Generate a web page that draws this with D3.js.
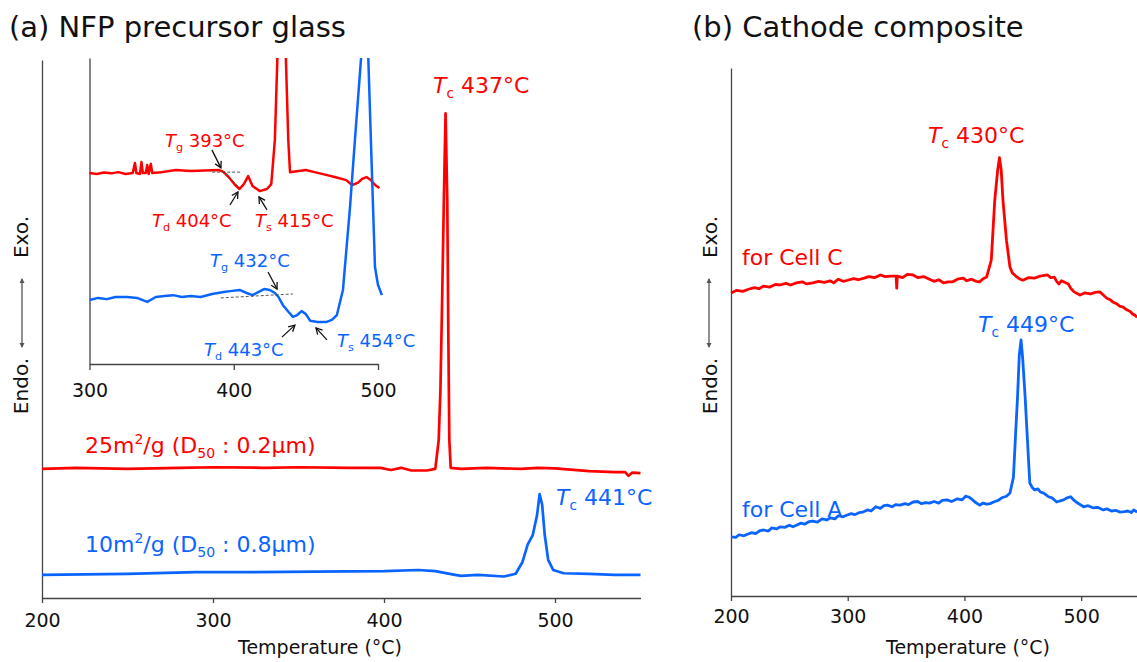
<!DOCTYPE html>
<html>
<head>
<meta charset="utf-8">
<script src="https://cdn.jsdelivr.net/npm/d3@7"></script>
<style>
  body { margin: 0; background: #fff; }
  svg { display: block; font-family: "DejaVu Sans", Verdana, sans-serif; }
</style>
</head>
<body>
<svg width="1137" height="662"></svg>
<script>
// ---- data (temperature in °C, DSC signal in arbitrary units, exo up) ----
const tickTemps = [200, 300, 400, 500];
const insetTicks = [300, 400, 500];

// (a) main curves
const red25 = [[200,24.0],[220,24.2],[250,24.0],[280,24.2],[300,24.3],[330,24.2],[350,24.3],[380,24.2],
  [398,24.2],[404,23.8],[410,24.2],[416,23.7],[425,23.7],[430,24.0],[432,29.4],[433,38.7],[434,55.4],
  [435,74.0],[436,90.1],[437,74.0],[437.6,49.8],[438.2,29.4],[439,24.2],[445,24.0],[460,24.2],[480,24.0],
  [490,24.2],[500,24.1],[520,23.6],[535,23.4],[541,23.4],[543,22.7],[545,23.3],[550,23.2]];
const blue10 = [[200,4.3],[250,4.5],[290,4.8],[320,4.8],[360,4.9],[400,5.0],[420,5.2],[430,5.0],[440,4.4],
  [445,4.1],[455,4.3],[470,4.0],[477,4.5],[481,6.7],[484,9.9],[487,11.7],[489.5,15.4],[491,19.3],
  [492.5,17.3],[494,11.7],[496,7.1],[499,5.2],[505,4.6],[520,4.5],[535,4.3],[550,4.3]];

// (a) inset curves
const redInset = [[300,62.4],[305,62.1],[310,62.6],[315,62.3],[320,62.7],[325,62.1],[330,62.4],[331.5,65.7],
  [332.5,62.4],[335,62.1],[336,66.0],[337,62.4],[339,62.4],[340,65.0],[341,62.1],[342.5,65.4],[343.5,62.4],
  [350,62.7],[360,63.4],[370,63.1],[380,63.2],[390,63.4],[393,62.7],[397,60.8],[401,58.5],[404,57.2],
  [407,58.8],[410,61.4],[413,58.2],[418,56.5],[423,57.2],[426,58.8],[428.5,73.2],[430.9,110],[435.5,110],
  [437.8,73.2],[439,62.7],[445,63.1],[450,63.4],[456,62.7],[464,61.8],[470,61.1],[478,60.1],[482,58.5],
  [486,59.2],[489,60.5],[492,61.1],[495,60.1],[498,58.5],[501,57.5]];
const blueInset = [[300,20.9],[306,21.6],[312,21.2],[318,21.9],[326,21.9],[333,21.6],[340,20.3],[346,21.9],
  [352,22.2],[358,22.5],[364,21.9],[370,22.2],[377,21.9],[385,22.9],[393,23.5],[399,23.9],[404,24.2],
  [409,23.2],[413,22.5],[417,23.5],[421,24.5],[425,24.2],[428.5,23.2],[431,21.9],[434,19.3],[438,17.0],
  [441,15.4],[444,16.0],[447,17.3],[450,16.3],[453,14.1],[458,13.7],[464,13.7],[468,14.4],[471.5,16.0],
  [475.7,24.2],[480.6,51.3],[484,73.2],[488.9,104],[493,104],[495.8,62.4],[497.9,31.7],[500,25.8],[502.7,22.5]];

// (b) cathode composite curves
const cellC = [[200,57.4],[205,57.9],[210,57.7],[215,58.1],[220,58.4],[224,58.2],[228,58.7],[233,58.5],
  [238,59.0],[242,58.9],[247,59.2],[251,58.9],[256,59.3],[261,59.5],[265,59.1],[270,59.3],[275,59.6],
  [280,59.4],[285,59.7],[288,59.3],[292,60.0],[296,59.6],[300,59.8],[305,60.1],[309,59.9],[314,60.2],
  [318,60.5],[323,60.3],[328,60.8],[332,60.5],[337,60.6],[341.5,60.6],[342,58.3],[342.5,60.6],[347,60.3],
  [351,60.9],[356,60.8],[360,60.3],[365,60.5],[370,60.0],[374,59.6],[378,59.9],[382,59.3],[386,59.5],
  [390,59.5],[394,60.0],[399,60.2],[402,59.7],[406,60.0],[410,59.6],[413,59.5],[416,60.1],[419,60.4],
  [423,63.6],[426,75.0],[428.5,80.7],[430,83.0],[431.5,80.7],[433,75.0],[436,67.4],[439,62.3],[441,61.2],
  [444,60.6],[447,60.1],[450,59.8],[455,60.3],[460,60.2],[465,60.6],[471,60.8],[474,60.3],[477,60.4],
  [479,59.6],[481,59.1],[483,59.7],[485,59.5],[489,59.1],[491,58.3],[494,57.6],[499,57.0],[503,57.4],
  [508,57.2],[512,57.5],[516,57.6],[519,57.0],[522,56.4],[525,56.1],[527,55.7],[530,55.4],[533,54.9],
  [536,54.7],[539,54.2],[542,53.9],[544,53.4],[546,53.2],[548,52.8]];
const cellA = [[200,11.2],[204,11.1],[207,11.6],[211,11.4],[214,11.7],[218,12.0],[221,11.8],[225,12.4],
  [228,12.5],[232,12.3],[235,12.9],[239,12.7],[242,13.1],[246,13.0],[250,13.4],[253,13.1],[256,13.4],
  [260,13.8],[263,13.6],[267,14.1],[270,14.2],[274,14.0],[278,14.6],[282,14.4],[285,14.8],[289,14.6],
  [292,15.2],[296,15.0],[299,15.3],[303,15.6],[306,15.4],[310,15.8],[313,15.9],[317,16.3],[320,16.1],
  [324,16.9],[328,16.6],[331,17.1],[334,17.2],[338,16.9],[341,17.3],[345,17.2],[349,17.5],[352,17.3],
  [356,17.8],[360,17.9],[363,17.5],[367,17.7],[370,17.6],[374,17.9],[378,17.6],[381,18.1],[385,18.2],
  [389,17.9],[394,18.4],[398,18.2],[401,18.9],[404,18.7],[406,18.4],[409,17.8],[413,17.2],[416,17.6],
  [419,17.4],[422,17.5],[425,17.8],[429,18.1],[432,18.6],[436,18.9],[439,19.5],[442,22.5],[444,31.4],
  [445.5,37.7],[447,45.6],[448.5,48.5],[450,44.7],[452,37.7],[454,29.5],[456,21.4],[458,20.6],[460,20.1],
  [463,20.3],[465,19.7],[468,19.5],[472,18.8],[475,18.6],[479,17.8],[482,18.0],[485,18.2],[488,18.6],
  [491,18.8],[494,18.1],[497,17.6],[500,17.2],[502,16.9],[506,17.1],[510,16.7],[514,16.8],[519,16.3],
  [522,16.5],[526,16.1],[530,16.2],[533,15.9],[537,16.0],[540,16.1],[543,15.8],[545,16.3],[548,15.9]];

// inset tangent lines and arrow targets [temperature, signal]
const redTangents = [[[385,62.7],[405,62.7]], [[394,62.4],[404,57.5]]];
const blueTangents = [[[391,21.6],[441,22.9]]];
const redMarks = [
  { t: 391.1, v: 64.1, sub: "g", txt: "393°C", tail: [-9,-18], lab: [-56,-21] },
  { t: 402.9, v: 56.2, sub: "d", txt: "404°C", tail: [-8,13], lab: [-86,35] },
  { t: 417.5, v: 54.6, sub: "s", txt: "415°C", tail: [8,13], lab: [-4,30] }];
const blueMarks = [
  { t: 430.0, v: 24.5, sub: "g", txt: "432°C", tail: [-9,-17], lab: [-67,-22] },
  { t: 442.4, v: 12.7, sub: "d", txt: "443°C", tail: [-13,12], lab: [-91,31] },
  { t: 457.0, v: 11.8, sub: "s", txt: "454°C", tail: [11,12], lab: [21,19] }];

// ---- drawing ----
const RED = "#ff0000", BLUE = "#0a64ff", AXIS = "#444";
const svg = d3.select("svg");

const xA = d3.scaleLinear().domain([200, 550]).range([42, 640.5]);
const yA = d3.scaleLinear().domain([0, 100]).range([598, 60]);
const xIn = d3.scaleLinear().domain([300, 500]).range([89.5, 378]);
const yIn = d3.scaleLinear().domain([0, 100]).range([364, 58]);
const xB = d3.scaleLinear().domain([200, 550]).range([731, 1139.5]);
const yB = d3.scaleLinear().domain([0, 100]).range([596, 68]);

const defs = svg.append("defs");
defs.append("clipPath").attr("id", "insetClip")
  .append("rect").attr("x", 85).attr("y", 58).attr("width", 320).attr("height", 320);
defs.append("marker").attr("id", "tri").attr("viewBox", "0 0 10 10")
  .attr("refX", 8).attr("refY", 5).attr("markerWidth", 4).attr("markerHeight", 4)
  .attr("orient", "auto-start-reverse")
  .append("path").attr("d", "M0,0L10,5L0,10z").attr("fill", "#555");

function lineOf(x, y) {
  return d3.line().x(d => x(d[0])).y(d => y(d[1]));
}

function drawCurve(g, data, x, y, color, w) {
  g.append("path").datum(data)
    .attr("d", lineOf(x, y))
    .attr("fill", "none").attr("stroke", color)
    .attr("stroke-width", w).attr("stroke-linejoin", "round");
}

function xAxis(x, yPos, ticks, size, pad, font) {
  var g = svg.append("g").attr("transform", "translate(0," + yPos + ")")
    .call(d3.axisBottom(x).tickValues(ticks).tickSize(size).tickPadding(pad).tickSizeOuter(0));
  g.select(".domain").attr("stroke", AXIS).attr("stroke-width", 1.3);
  g.selectAll(".tick line").attr("stroke", AXIS).attr("stroke-width", 1.3);
  g.selectAll("text").attr("font-size", font).attr("fill", "#111")
    .attr("font-family", "DejaVu Sans, Verdana, sans-serif");
  return g;
}

function yAxisLine(y, xPos) {
  var g = svg.append("g").attr("transform", "translate(" + xPos + ",0)")
    .call(d3.axisLeft(y).tickValues([]).tickSizeOuter(0));
  g.select(".domain").attr("stroke", AXIS).attr("stroke-width", 1.3);
}

// T with subscript, then the rest
function tLabel(x, y, sub, rest, size, color) {
  var t = svg.append("text").attr("x", x).attr("y", y)
    .attr("font-size", size).attr("fill", color);
  t.append("tspan").attr("font-style", "italic").text("T");
  t.append("tspan").attr("font-size", size * 0.62).attr("dy", size * 0.22).text(sub);
  t.append("tspan").attr("dy", -size * 0.22).text(" " + rest);
}

function sampleLabel(x, y, area, d50, color) {
  var t = svg.append("text").attr("x", x).attr("y", y)
    .attr("font-size", 22).attr("fill", color);
  t.append("tspan").text(area + "m");
  t.append("tspan").attr("font-size", 14).attr("dy", -9).text("2");
  t.append("tspan").attr("dy", 9).text("/g (D");
  t.append("tspan").attr("font-size", 14).attr("dy", 5).text("50");
  t.append("tspan").attr("dy", -5).text(" : " + d50 + "\u03bcm)");
}

function exoEndo(xBase, xArrow) {
  svg.append("text").attr("transform", "translate(" + xBase + ",237) rotate(-90)")
    .attr("text-anchor", "middle").attr("font-size", 20).attr("fill", "#111").text("Exo.");
  svg.append("text").attr("transform", "translate(" + xBase + ",386) rotate(-90)")
    .attr("text-anchor", "middle").attr("font-size", 20).attr("fill", "#111").text("Endo.");
  svg.append("line").attr("x1", xArrow).attr("x2", xArrow).attr("y1", 279).attr("y2", 347)
    .attr("stroke", "#555").attr("stroke-width", 1.3)
    .attr("marker-start", "url(#tri)").attr("marker-end", "url(#tri)");
}

// titles
svg.append("text").attr("x", 9).attr("y", 37).attr("font-size", 29).attr("fill", "#111")
  .text("(a) NFP precursor glass");
svg.append("text").attr("x", 692).attr("y", 37).attr("font-size", 29).attr("fill", "#111")
  .text("(b) Cathode composite");

// ---- panel (a) ----
yAxisLine(yA, 42);
xAxis(xA, 598, tickTemps, 5, 10.5, 19);
svg.append("text").attr("x", 320).attr("y", 654).attr("text-anchor", "middle")
  .attr("font-size", 19).attr("fill", "#111").text("Temperature (\u00b0C)");
exoEndo(28, 22);

const gA = svg.append("g");
drawCurve(gA, red25, xA, yA, RED, 2.7);
drawCurve(gA, blue10, xA, yA, BLUE, 2.7);
tLabel(433, 93, "c", "437\u00b0C", 22, RED);
tLabel(556, 505, "c", "441\u00b0C", 22, BLUE);
sampleLabel(85, 453, 25, "0.2", RED);
sampleLabel(85, 552, 10, "0.8", BLUE);

// inset
yAxisLine(yIn, 89.5);
xAxis(xIn, 364, insetTicks, 6, 14, 19);
const gIn = svg.append("g").attr("clip-path", "url(#insetClip)");
drawCurve(gIn, redInset, xIn, yIn, RED, 2.5);
drawCurve(gIn, blueInset, xIn, yIn, BLUE, 2.5);

redTangents.concat(blueTangents).forEach(seg => {
  svg.append("path").datum(seg).attr("d", lineOf(xIn, yIn))
    .attr("fill", "none").attr("stroke", "#444").attr("stroke-width", 0.9)
    .attr("stroke-dasharray", "3,2");
});

function drawMarks(marks, color) {
  marks.forEach(m => {
    var tx = xIn(m.t), ty = yIn(m.v);
    var sx = tx + m.tail[0], sy = ty + m.tail[1];
    var ang = Math.atan2(ty - sy, tx - sx), h = 7, spread = 0.5;
    svg.append("line").attr("x1", sx).attr("y1", sy).attr("x2", tx).attr("y2", ty)
      .attr("stroke", "#111").attr("stroke-width", 1.3);
    svg.append("path")
      .attr("d", "M" + (tx - h * Math.cos(ang - spread)) + "," + (ty - h * Math.sin(ang - spread)) +
        "L" + tx + "," + ty +
        "L" + (tx - h * Math.cos(ang + spread)) + "," + (ty - h * Math.sin(ang + spread)))
      .attr("fill", "none").attr("stroke", "#111").attr("stroke-width", 1.3);
    tLabel(tx + m.lab[0], ty + m.lab[1], m.sub, m.txt, 18, color);
  });
}
drawMarks(redMarks, RED);
drawMarks(blueMarks, BLUE);

// ---- panel (b) ----
yAxisLine(yB, 731);
xAxis(xB, 596, tickTemps, 5, 8.5, 19);
svg.append("text").attr("x", 968).attr("y", 654).attr("text-anchor", "middle")
  .attr("font-size", 19).attr("fill", "#111").text("Temperature (\u00b0C)");
exoEndo(717, 709);

const gB = svg.append("g");
drawCurve(gB, cellC, xB, yB, RED, 2.8);
drawCurve(gB, cellA, xB, yB, BLUE, 2.8);
tLabel(928, 143, "c", "430\u00b0C", 22, RED);
tLabel(978, 332, "c", "449\u00b0C", 22, BLUE);
svg.append("text").attr("x", 742).attr("y", 265).attr("font-size", 22).attr("fill", RED).text("for Cell C");
svg.append("text").attr("x", 742).attr("y", 517).attr("font-size", 22).attr("fill", BLUE).text("for Cell A");
</script>
</body>
</html>
